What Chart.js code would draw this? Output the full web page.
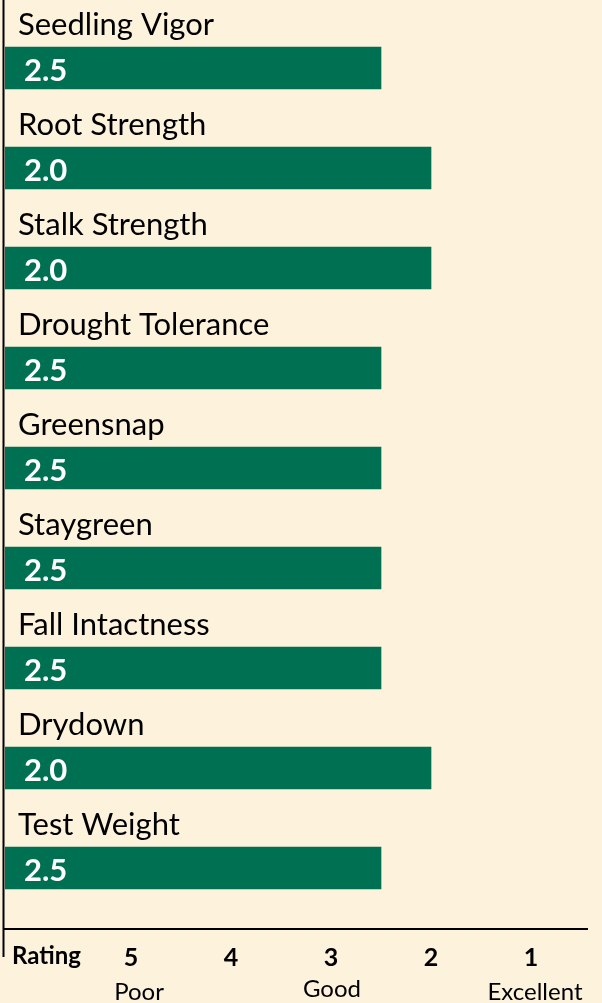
<!DOCTYPE html>
<html>
<head>
<meta charset="utf-8">
<script src="https://cdn.jsdelivr.net/npm/chart.js@4.4.1/dist/chart.umd.min.js"></script>
<style>
  body { margin: 0; background: #fdf2dc; }
  canvas { display: block; }
</style>
</head>
<body>
<canvas id="ratingChart" width="602" height="1003"></canvas>
<script>
const traits = ["Seedling Vigor", "Root Strength", "Stalk Strength", "Drought Tolerance",
  "Greensnap", "Staygreen", "Fall Intactness", "Drydown", "Test Weight"];
const ratings = [2.5, 2.0, 2.0, 2.5, 2.5, 2.5, 2.5, 2.0, 2.5];
const ratingTicks = [5, 4, 3, 2, 1];
const ratingWords = [
  { value: 5, text: "Poor", dx: 8, y: 1000 },
  { value: 3, text: "Good", dx: 1, y: 997 },
  { value: 1, text: "Excellent", dx: 4, y: 1000 }
];

// the scale runs backwards: 5 (poor) on the left, 1 (excellent) on the right
const scaleLeft = 6.26;
const scaleRight = 0.44;

const barColor = "#007052";
const font = "Lato";

const labelsPlugin = {
  id: "labels",
  afterDatasetsDraw(chart) {
    const ctx = chart.ctx;
    const meta = chart.getDatasetMeta(0);
    const xScale = chart.scales.x;
    ctx.save();

    meta.data.forEach((bar, i) => {
      ctx.fillStyle = "#000";
      ctx.font = "31px " + font;
      ctx.textAlign = "left";
      ctx.textBaseline = "alphabetic";
      ctx.fillText(traits[i], 18, bar.y - 33);

      ctx.fillStyle = "#fff";
      ctx.font = "bold 31px " + font;
      ctx.fillText(ratings[i].toFixed(1), 24, bar.y + 13);
    });

    // left line runs a bit past the axis
    ctx.strokeStyle = "#000";
    ctx.lineWidth = 2;
    ctx.beginPath();
    ctx.moveTo(3.5, 0);
    ctx.lineTo(3.5, 957);
    ctx.stroke();

    ctx.fillStyle = "#000";
    ctx.font = "bold 24px " + font;
    ctx.textAlign = "left";
    ctx.fillText("Rating", 12, 964);

    ctx.font = "24px " + font;
    ctx.textAlign = "center";
    ratingWords.forEach(w => {
      ctx.fillText(w.text, xScale.getPixelForValue(w.value) + w.dx, w.y);
    });
    ctx.restore();
  }
};

const ctx = document.getElementById("ratingChart").getContext("2d");
new Chart(ctx, {
  type: "bar",
  data: {
    datasets: [{
      data: traits.map((t, i) => ({ x: [scaleLeft, ratings[i]], y: i })),
      backgroundColor: barColor,
      barThickness: 42,
      borderWidth: 0
    }]
  },
  options: {
    indexAxis: "y",
    responsive: false,
    animation: false,
    layout: { padding: { left: 5, right: 15, top: 0, bottom: 0 } },
    plugins: {
      legend: { display: false },
      tooltip: { enabled: false }
    },
    scales: {
      x: {
        type: "linear",
        min: scaleRight,
        max: scaleLeft,
        reverse: true,
        grid: { display: false, drawTicks: false },
        border: { display: true, color: "#000", width: 2 },
        afterBuildTicks: scale => {
          scale.ticks = ratingTicks.map(v => ({ value: v }));
        },
        afterFit: scale => { scale.height = 74; },
        ticks: {
          color: "#000",
          padding: 14,
          font: { family: font, size: 25, weight: "bold" },
          maxRotation: 0,
          autoSkip: false
        }
      },
      y: {
        type: "linear",
        display: false,
        reverse: true,
        offset: false,
        grid: { offset: false },
        min: -0.68,
        max: 8.61
      }
    }
  },
  plugins: [labelsPlugin]
});
</script>
</body>
</html>
